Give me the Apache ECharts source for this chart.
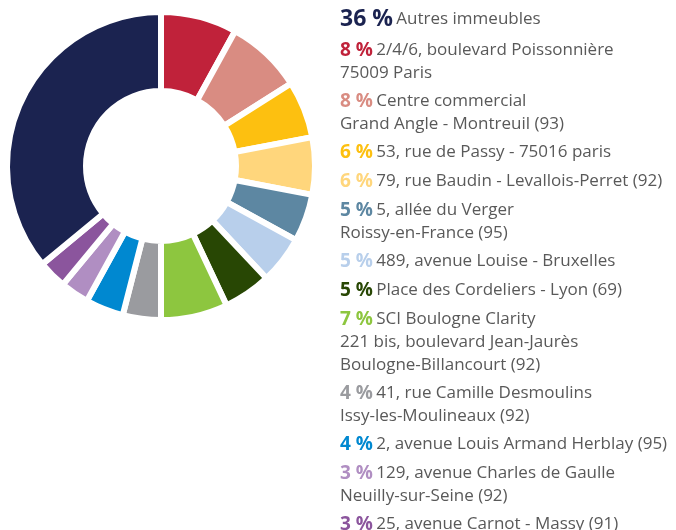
<!DOCTYPE html>
<html>
<head>
<meta charset="utf-8">
<script src="https://cdn.jsdelivr.net/npm/echarts@6/dist/echarts.min.js"></script>
<style>
  html, body { margin: 0; padding: 0; background: #fff; }
  #chart { width: 676px; height: 530px; }
</style>
</head>
<body>
<div id="chart"></div>
<script>
// slices, clockwise from 12 o'clock
const names = [
  '2/4/6, boulevard Poissonnière\n75009 Paris',
  'Centre commercial\nGrand Angle - Montreuil (93)',
  '53, rue de Passy - 75016 paris',
  '79, rue Baudin - Levallois-Perret (92)',
  '5, allée du Verger\nRoissy-en-France (95)',
  '489, avenue Louise - Bruxelles',
  'Place des Cordeliers - Lyon (69)',
  'SCI Boulogne Clarity\n221 bis, boulevard Jean-Jaurès\nBoulogne-Billancourt (92)',
  '41, rue Camille Desmoulins\nIssy-les-Moulineaux (92)',
  '2, avenue Louis Armand Herblay (95)',
  '129, avenue Charles de Gaulle\nNeuilly-sur-Seine (92)',
  '25, avenue Carnot - Massy (91)',
  'Autres immeubles'
]
const values = [8, 8, 6, 6, 5, 5, 5, 7, 4, 4, 3, 3, 36]
const colors = [
  '#c0223a', '#d98c82', '#fdc010', '#ffd67c', '#5d87a2', '#b8cfeb',
  '#284704', '#8dc63f', '#9a9b9f', '#0088d0', '#b08ec2', '#8b559d', '#1b2350'
]
// legend lists "Autres immeubles" first
const legendOrder = [12, 0, 1, 2, 3, 4, 5, 6, 7, 8, 9, 10, 11]

const chart = echarts.init(document.getElementById('chart'))

const rich = {
  t: { fontFamily: 'Open Sans', fontSize: 17, color: '#595959', lineHeight: 23 }
}
colors.forEach((c, i) => {
  rich['p' + i] = {
    fontFamily: 'Open Sans',
    fontSize: i === 12 ? 23 : 19,
    fontWeight: 'bold',
    color: c,
    lineHeight: 23
  }
})

chart.setOption({
  animation: false,
  legend: {
    orient: 'vertical',
    left: 335,
    top: 8,
    height: 600,
    padding: 0,
    itemGap: 10,
    icon: 'none',
    itemWidth: 0,
    itemHeight: 0,
    selectedMode: false,
    data: legendOrder.map((i) => names[i]),
    formatter: (name) => {
      const i = names.indexOf(name)
      const lines = name.split('\n')
      return '{p' + i + '|' + values[i] + ' %} ' +
        lines.map((l) => '{t|' + l + '}').join('\n')
    },
    textStyle: { rich: rich, padding: 0 }
  },
  series: [
    {
      type: 'pie',
      center: [161, 166],
      radius: [75, 154],
      startAngle: 90,
      clockwise: true,
      label: { show: false },
      labelLine: { show: false },
      emphasis: { disabled: true },
      itemStyle: { borderColor: '#fff', borderWidth: 6 },
      data: names.map((n, i) => ({
        name: n,
        value: values[i],
        itemStyle: { color: colors[i] }
      }))
    }
  ]
})
</script>
</body>
</html>
